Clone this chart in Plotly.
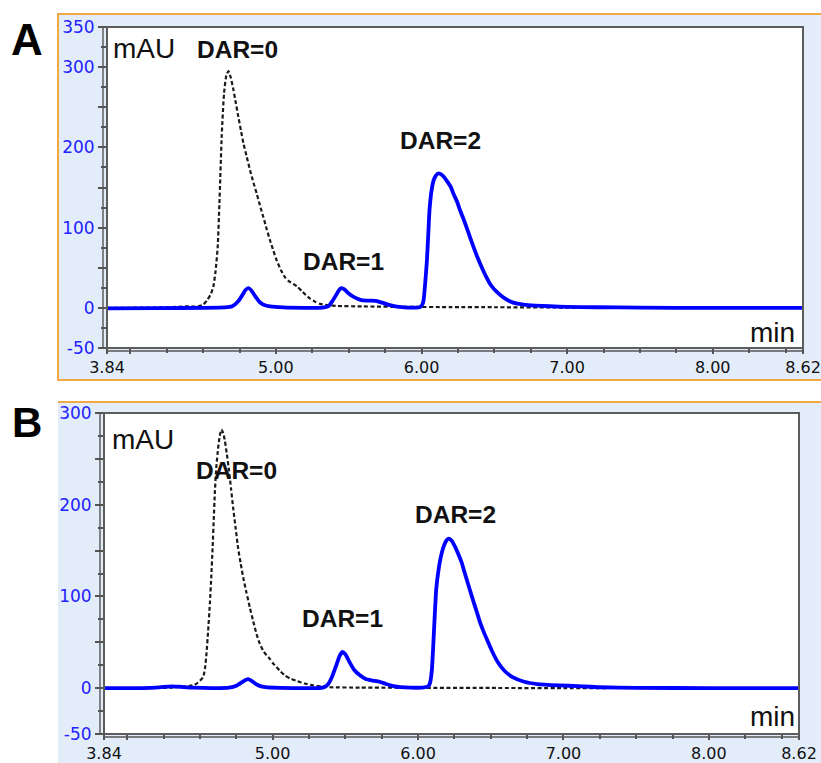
import plotly.graph_objects as go

W, H = 821, 763

# ---- Panel A chromatograms (time in min, absorbance in mAU) ----
a_ref_t = [3.84, 4.20, 4.35, 4.40, 4.45, 4.50, 4.525, 4.55, 4.57, 4.585, 4.60, 4.612,
           4.628, 4.644, 4.66, 4.674, 4.69, 4.708, 4.725, 4.742, 4.76, 4.777, 4.80,
           4.823, 4.846, 4.869, 4.89, 4.914, 4.937, 4.96, 4.983, 5.006, 5.035, 5.063,
           5.09, 5.12, 5.15, 5.178, 5.205, 5.235, 5.27, 5.304, 5.36, 5.418, 5.60,
           5.90, 6.20, 6.50, 6.86, 7.20]
a_ref_y = [0, 0.5, 1.5, 2, 1.5, 4, 9, 16, 26, 45, 75, 130,
           215, 268, 290, 295, 287, 272, 255, 238, 221, 205, 188,
           171, 156, 142, 128, 113, 98, 84, 71, 59, 47, 38,
           33, 30, 26, 21, 16, 11.5, 7.5, 5, 3.2, 2.4, 1.8,
           1.2, 1, 0.8, 0.5, 0.2]

a_adc_t = [3.84, 4.20, 4.50, 4.65, 4.70, 4.74, 4.77, 4.79, 4.811, 4.83, 4.86, 4.89,
           4.92, 4.96, 5.05, 5.20, 5.32, 5.36, 5.39, 5.42, 5.44, 5.453, 5.47, 5.50,
           5.54, 5.58, 5.62, 5.66, 5.694, 5.73, 5.77, 5.82, 5.88, 5.95, 5.99, 6.005,
           6.014, 6.025, 6.037, 6.046, 6.055, 6.068, 6.083, 6.10, 6.115, 6.129, 6.15,
           6.175, 6.20, 6.22, 6.245, 6.266, 6.29, 6.312, 6.335, 6.357, 6.38, 6.403,
           6.425, 6.449, 6.47, 6.495, 6.52, 6.541, 6.575, 6.61, 6.65, 6.70, 6.78,
           6.88, 7.00, 7.20, 7.50, 8.00, 8.62]
a_adc_y = [-0.5, -0.3, 0, 0.5, 2, 8, 16, 22, 24.5, 22, 14, 7,
           3.5, 1.8, 0.5, 0, 0.3, 2, 9, 18, 23.5, 24.5, 23, 18,
           13, 10, 9, 9, 8.5, 6.5, 4, 1.8, 0.6, 0.3, 1, 4,
           9, 30, 59, 90, 122, 145, 159, 165, 167.5, 167, 164,
           158, 151, 142, 132, 121, 110, 99, 87, 76, 65, 55,
           46, 37, 30, 24, 19.5, 16, 11.5, 8, 5.5, 4, 2.8,
           2, 1.2, 0.8, 0.3, 0, 0]

# ---- Panel B chromatograms ----
b_ref_t = [3.84, 4.30, 4.45, 4.477, 4.50, 4.522, 4.535, 4.545, 4.556, 4.568, 4.578,
           4.587, 4.595, 4.602, 4.612, 4.625, 4.636, 4.648, 4.66, 4.671, 4.685, 4.70,
           4.714, 4.728, 4.745, 4.762, 4.78, 4.797, 4.82, 4.843, 4.866, 4.889, 4.91,
           4.934, 4.957, 4.98, 5.003, 5.026, 5.055, 5.083, 5.12, 5.163, 5.22, 5.277,
           5.34, 5.39, 5.60, 6.00, 6.50, 7.00, 7.30]
b_ref_y = [0, 0.5, 3, 5, 8, 12, 22, 38, 62, 92, 122,
           153, 185, 212, 240, 262, 275, 282, 278, 270, 255, 237,
           217, 197, 175, 153, 136, 121, 104, 88, 73, 59, 49,
           41, 36, 32, 27, 23, 18, 14, 10.5, 8, 5, 3,
           1.8, 1, 0.6, 0.3, 0.2, 0, 0]

b_adc_t = [3.84, 4.10, 4.22, 4.30, 4.36, 4.45, 4.60, 4.70, 4.75, 4.79, 4.815, 4.831,
           4.85, 4.88, 4.91, 4.95, 5.05, 5.20, 5.30, 5.35, 5.38, 5.41, 5.44, 5.46,
           5.479, 5.50, 5.53, 5.56, 5.60, 5.64, 5.68, 5.736, 5.78, 5.83, 5.88, 5.95,
           6.03, 6.07, 6.083, 6.095, 6.105, 6.115, 6.125, 6.14, 6.155, 6.175, 6.195,
           6.21, 6.23, 6.255, 6.28, 6.30, 6.32, 6.345, 6.37, 6.40, 6.43, 6.455, 6.477,
           6.51, 6.55, 6.594, 6.65, 6.73, 6.82, 6.97, 7.10, 7.25, 7.50, 8.00, 8.62]
b_adc_y = [0, 0, 0.8, 2, 1.5, 0.5, 0, 0.5, 2.5, 6.5, 9, 9.8,
           8.5, 5, 2.5, 1, 0.2, 0, 0, 0.8, 4, 13, 26, 35,
           39.5, 37, 28, 20, 14, 10, 8.5, 7, 4.5, 2.2, 1, 0.5,
           0.6, 2, 6, 20, 48, 80, 108, 128, 142, 154, 161,
           163, 161, 154, 145, 137, 126, 113, 100, 85, 70, 60, 52,
           40, 28, 19, 12, 7, 4.5, 3, 2.2, 1, 0.4, 0, 0]

# ---- Axis ticks ----
x_major = [3.84, 4.0, 5.0, 6.0, 7.0, 8.0, 8.62]
x_major_text = ["3.84", "", "5.00", "6.00", "7.00", "8.00", "8.62"]
x_minor = [4.25, 4.5, 4.75, 5.25, 5.5, 5.75, 6.25, 6.5, 6.75, 7.25, 7.5, 7.75, 8.25, 8.5]

a_y_major = [-50, 0, 50, 100, 150, 200, 250, 300, 350]
a_y_text = ["-50", "0", "", "100", "", "200", "", "300", "350"]
a_y_minor = [-25, 25, 75, 125, 175, 225, 275, 325]

b_y_major = [-50, 0, 50, 100, 150, 200, 250, 300]
b_y_text = ["-50", "0", "", "100", "", "200", "", "300"]
b_y_minor = [-25, 25, 75, 125, 175, 225, 275]

BLUE = "#0000ff"
TICK_BLUE = "#2222ff"
AXIS_GREY = "#555555"
PANEL_BG = "#e3ecf9"
ORANGE = "#f2a845"


def px(x):
    return x / W


def py(y):
    return 1 - y / H


fig = go.Figure()

# dashed reference trace first, ADC trace drawn on top
for t, y, xa, ya in [(a_ref_t, a_ref_y, "x", "y"), (b_ref_t, b_ref_y, "x2", "y2")]:
    fig.add_trace(go.Scatter(x=t, y=y, xaxis=xa, yaxis=ya, mode="lines",
                             line=dict(color="#1a1a1a", width=2.2, dash="4px,2.5px",
                                       shape="spline", smoothing=0.5),
                             hoverinfo="skip", showlegend=False))
for t, y, xa, ya in [(a_adc_t, a_adc_y, "x", "y"), (b_adc_t, b_adc_y, "x2", "y2")]:
    fig.add_trace(go.Scatter(x=t, y=y, xaxis=xa, yaxis=ya, mode="lines",
                             line=dict(color=BLUE, width=3.8, shape="spline", smoothing=0.5),
                             hoverinfo="skip", showlegend=False))


def xaxis_cfg(domain, anchor):
    return dict(domain=domain, anchor=anchor, range=[3.84, 8.62], automargin=False,
                tickmode="array", tickvals=x_major, ticktext=x_major_text,
                ticks="outside", ticklen=5, tickwidth=1.5, tickcolor=AXIS_GREY,
                ticklabeloverflow="allow",
                minor=dict(tickmode="array", tickvals=x_minor, ticks="outside",
                           ticklen=4, tickwidth=1.5, tickcolor=AXIS_GREY),
                tickfont=dict(family="DejaVu Sans", size=16, color="#111111"),
                showgrid=False, zeroline=False, showline=False, fixedrange=True)


def yaxis_cfg(domain, anchor, rng, vals, text, minor):
    return dict(domain=domain, anchor=anchor, range=rng, automargin=False,
                tickmode="array", tickvals=vals, ticktext=text,
                ticks="outside", ticklen=8, tickwidth=1.5, tickcolor=AXIS_GREY,
                ticklabeloverflow="allow",
                minor=dict(tickmode="array", tickvals=minor, ticks="outside",
                           ticklen=5, tickwidth=1.5, tickcolor=AXIS_GREY),
                tickfont=dict(family="DejaVu Sans", size=17, color=TICK_BLUE),
                showgrid=False, zeroline=False, showline=False, fixedrange=True)


# plot-area pixel boxes (left, right, top, bottom)
A_BOX = (107, 803, 27, 348)
B_BOX = (104, 799, 413, 734)
# panel pixel boxes (left, right, top, bottom)
A_PANEL = (58, 830, 14, 380)
B_PANEL = (58, 830, 402, 770)

fig.update_layout(
    template="none",
    width=W, height=H,
    margin=dict(l=0, r=0, t=0, b=0, autoexpand=False),
    paper_bgcolor="#ffffff", plot_bgcolor="#ffffff",
    xaxis=xaxis_cfg([px(A_BOX[0]), px(A_BOX[1])], "y"),
    yaxis=yaxis_cfg([py(A_BOX[3]), py(A_BOX[2])], "x", [-50, 350],
                    a_y_major, a_y_text, a_y_minor),
    xaxis2=xaxis_cfg([px(B_BOX[0]), px(B_BOX[1])], "y2"),
    yaxis2=yaxis_cfg([py(B_BOX[3]), py(B_BOX[2])], "x2", [-50, 300],
                     b_y_major, b_y_text, b_y_minor),
)

shapes = []


def band(x0, x1, y0, y1):
    return dict(type="rect", xref="paper", yref="paper", layer="below",
                x0=px(x0), x1=px(x1), y0=py(y1), y1=py(y0),
                fillcolor=PANEL_BG, line=dict(width=0))


# light-blue panel surround, built as four strips around each white plot area
for (pl, pr, pt, pb), (l, r, t, b) in [(A_PANEL, A_BOX), (B_PANEL, B_BOX)]:
    shapes.append(band(pl, pr, pt, t))
    shapes.append(band(pl, pr, b, pb))
    shapes.append(band(pl, l, t, b))
    shapes.append(band(r, pr, t, b))

# orange panel borders
shapes.append(dict(type="rect", xref="paper", yref="paper", layer="below",
                   x0=px(58), x1=px(830), y0=py(380), y1=py(14),
                   line=dict(color=ORANGE, width=2)))
shapes.append(dict(type="line", xref="paper", yref="paper", layer="below",
                   x0=px(58), x1=px(830), y0=py(402), y1=py(402),
                   line=dict(color=ORANGE, width=2)))

# white plot areas, frames and the offset axis lines
for (l, r, t, b), xa, ya in [(A_BOX, "x", "y"), (B_BOX, "x2", "y2")]:
    shapes.append(dict(type="rect", xref=f"{xa} domain", yref=f"{ya} domain",
                       x0=0, x1=1, y0=0, y1=1, layer="below",
                       fillcolor="#ffffff", line=dict(width=0)))
    shapes.append(dict(type="rect", xref=f"{xa} domain", yref=f"{ya} domain",
                       x0=0, x1=1, y0=0, y1=1, layer="above",
                       line=dict(color="#5c5c5c", width=2)))
    shapes.append(dict(type="line", xref="paper", yref="paper", layer="above",
                       x0=px(l - 4), x1=px(l - 4), y0=py(b + 1), y1=py(t),
                       line=dict(color=AXIS_GREY, width=1.4)))
    shapes.append(dict(type="line", xref="paper", yref="paper", layer="above",
                       x0=px(l), x1=px(r), y0=py(b + 3), y1=py(b + 3),
                       line=dict(color=AXIS_GREY, width=1.4)))
fig.update_layout(shapes=shapes)


def label(text, x, y, size, bold=False, family="Liberation Sans", color="#111111"):
    return dict(text=f"<b>{text}</b>" if bold else text, xref="paper", yref="paper",
                x=px(x), y=py(y), xanchor="center", yanchor="middle", showarrow=False,
                font=dict(family=family, size=size, color=color))


annotations = [
    label("A", 27, 39, 44, bold=True, family="Liberation Sans", color="#000000"),
    label("B", 27, 422, 42, bold=True, family="Liberation Sans", color="#000000"),
    label("mAU", 144, 48, 28),
    label("mAU", 143, 440, 28),
    label("min", 772, 333, 28),
    label("min", 772, 716, 28),
    label("DAR=0", 237, 50, 24.5, bold=True),
    label("DAR=1", 343, 261, 24.5, bold=True),
    label("DAR=2", 440, 140, 24.5, bold=True),
    label("DAR=0", 236, 470, 24.5, bold=True),
    label("DAR=1", 342, 618, 24.5, bold=True),
    label("DAR=2", 455, 514, 24.5, bold=True),
]
fig.update_layout(annotations=annotations)

fig.write_html("out.html")
